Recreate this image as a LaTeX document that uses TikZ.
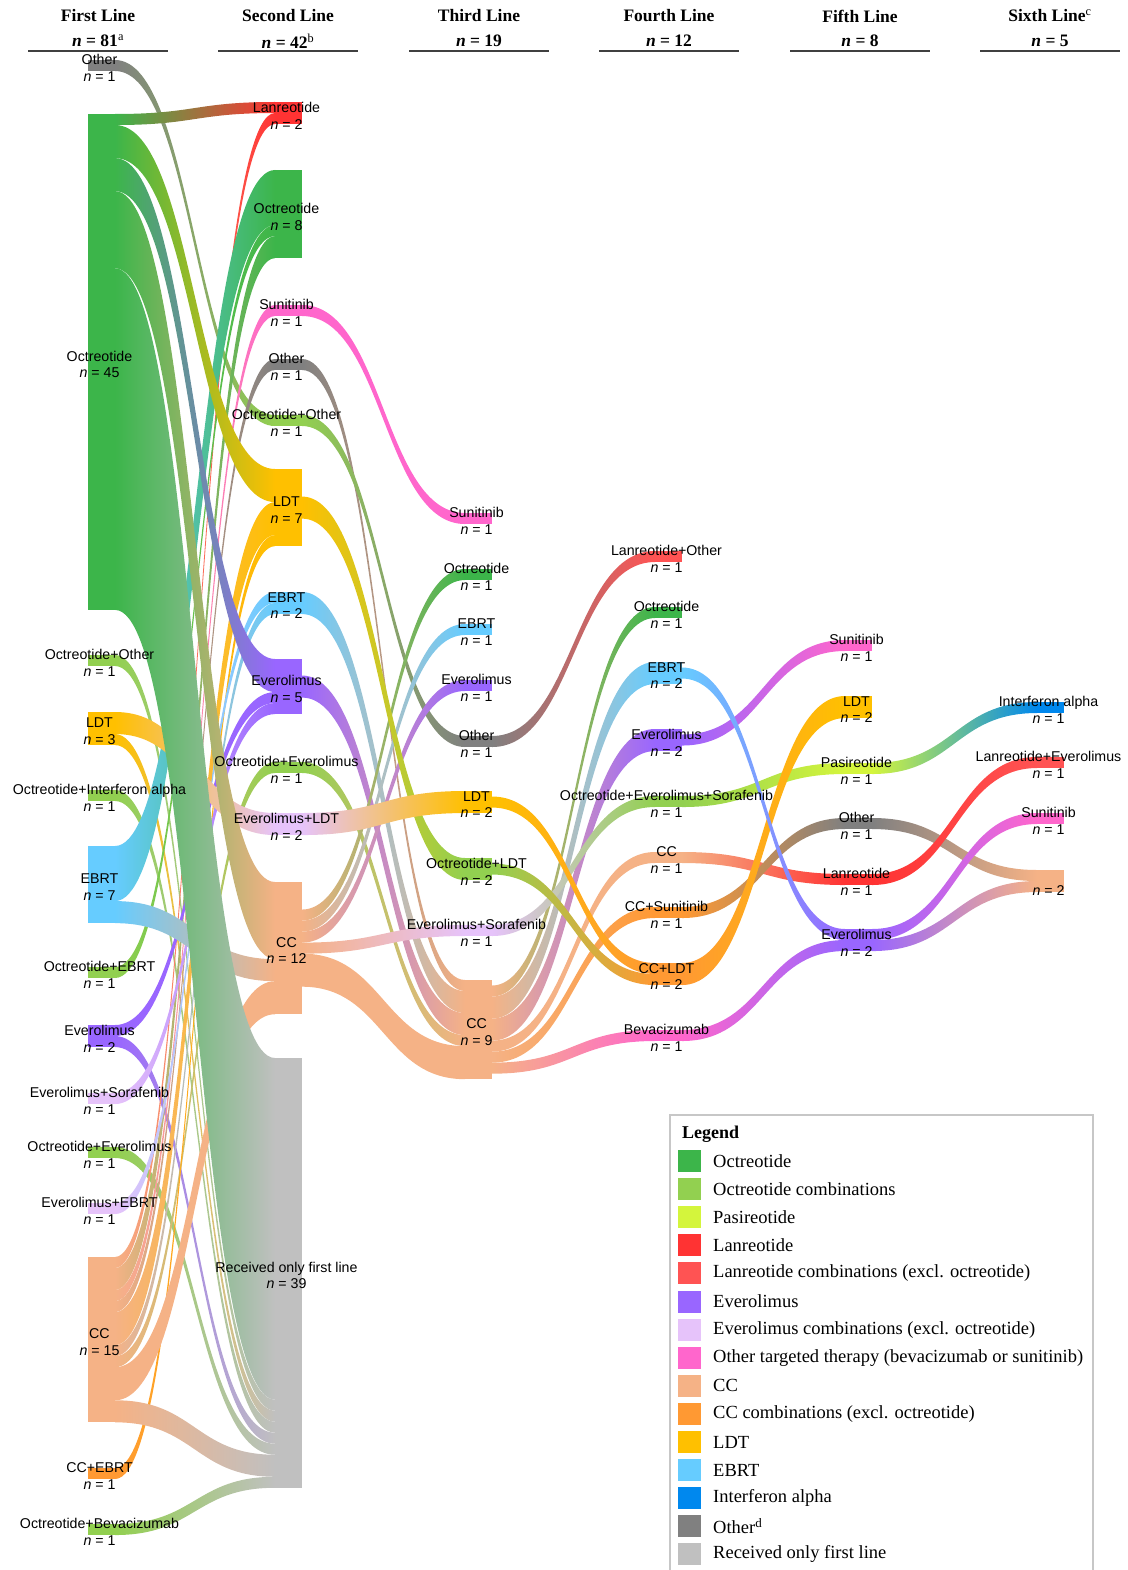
\documentclass[tikz,border=0pt]{standalone}
\usepackage{fontspec}
\setmainfont{Liberation Serif}
\newfontfamily\sansf{Liberation Sans}
\usetikzlibrary{calc}
\definecolor{cOct}{HTML}{3CB54A}
\definecolor{cOctC}{HTML}{92D050}
\definecolor{cPas}{HTML}{D4F53C}
\definecolor{cLan}{HTML}{FF3333}
\definecolor{cLanC}{HTML}{FF5353}
\definecolor{cEve}{HTML}{9966FF}
\definecolor{cEveC}{HTML}{E6C3FA}
\definecolor{cTT}{HTML}{FF66CC}
\definecolor{cCC}{HTML}{F5B286}
\definecolor{cCCC}{HTML}{FF9933}
\definecolor{cLDT}{HTML}{FFC000}
\definecolor{cEBRT}{HTML}{66CCFF}
\definecolor{cIFN}{HTML}{0088EE}
\definecolor{cOth}{HTML}{808080}
\definecolor{cRecv}{HTML}{C0C0C0}
\def\U{11.02}
\newcommand\nd[5]{\node[barbox=#4, fill=#5] (#1) at (#2,#3) {};}
\newcommand\lb[3]{\node[lbl] (#1L) at ([xshift=-2pt,yshift=-2.5pt]#1.center) {#2\\\textit{n} = #3};}
\newcommand\flow[7]{%
\path ($(#1.north east)+(0,#2*\U)$) coordinate (fa)
      ($(#1.north east)+(0,#2*\U+#5*\U)$) coordinate (fb)
      ($(#3.north west)+(0,#4*\U)$) coordinate (ga)
      ($(#3.north west)+(0,#4*\U+#5*\U)$) coordinate (gb)
      ($(fa)!.5!(ga)$) coordinate (fm);
\shade[left color=#6,right color=#7] (fa) .. controls (fa-|fm) and (ga-|fm) .. (ga) -- (gb) .. controls (gb-|fm) and (fb-|fm) .. (fb) -- cycle;}
\tikzset{
 barbox/.style={rectangle, draw=none, inner sep=0pt, outer sep=0pt, minimum width=27pt, minimum height={#1*11.02pt}, anchor=north west},
 lbl/.style={align=center, font=\sansf\fontsize{14.2}{16.7}\selectfont, inner sep=0pt, text=black},
 hdr/.style={font=\bfseries\fontsize{17.5}{20}\selectfont, inner sep=0pt},
 leg/.style={font=\fontsize{18.5}{20}\selectfont, anchor=west, inner sep=0pt},
 hline/.style={line width=1.6pt, black!75}
}
\begin{document}
\begin{tikzpicture}[x=1pt,y=-1pt]
\useasboundingbox (0,0) rectangle (1127,1570);
% ---------- nodes col 1
\nd{c1oth}{88}{60}{1}{cOth}
\nd{c1oct}{88}{114}{45}{cOct}
\nd{c1ooth}{88}{655}{1}{cOctC}
\nd{c1ldt}{88}{712}{3}{cLDT}
\nd{c1oifn}{88}{790}{1}{cOctC}
\nd{c1ebrt}{88}{846}{7}{cEBRT}
\nd{c1oebrt}{88}{967}{1}{cOctC}
\nd{c1eve}{88}{1025}{2}{cEve}
\nd{c1esor}{88}{1093}{1}{cEveC}
\nd{c1oeve}{88}{1147}{1}{cOctC}
\nd{c1eebrt}{88}{1203}{1}{cEveC}
\nd{c1cc}{88}{1257}{15}{cCC}
\nd{c1ccebrt}{88}{1468}{1}{cCCC}
\nd{c1obev}{88}{1524}{1}{cOctC}
% col 2
\nd{c2lan}{275}{102}{2}{cLan}
\nd{c2oct}{275}{170}{8}{cOct}
\nd{c2sun}{275}{305}{1}{cTT}
\nd{c2oth}{275}{359}{1}{cOth}
\nd{c2ooth}{275}{415}{1}{cOctC}
\nd{c2ldt}{275}{469}{7}{cLDT}
\nd{c2ebrt}{275}{592}{2}{cEBRT}
\nd{c2eve}{275}{659}{5}{cEve}
\nd{c2oeve}{275}{762}{1}{cOctC}
\nd{c2eldt}{275}{813}{2}{cEveC}
\nd{c2cc}{275}{882}{12}{cCC}
\nd{c2recv}{275}{1058}{39}{cRecv}
% col 3
\nd{c3sun}{465}{513}{1}{cTT}
\nd{c3oct}{465}{569}{1}{cOct}
\nd{c3ebrt}{465}{624}{1}{cEBRT}
\nd{c3eve}{465}{680}{1}{cEve}
\nd{c3oth}{465}{736}{1}{cOth}
\nd{c3ldt}{465}{791}{2}{cLDT}
\nd{c3oldt}{465}{858}{2}{cOctC}
\nd{c3esor}{465}{925}{1}{cEveC}
\nd{c3cc}{465}{980}{9}{cCC}
% col 4
\nd{c4loth}{655}{551}{1}{cLanC}
\nd{c4oct}{655}{607}{1}{cOct}
\nd{c4ebrt}{655}{662}{2}{cEBRT}
\nd{c4eve}{655}{729}{2}{cEve}
\nd{c4oes}{655}{796}{1}{cOctC}
\nd{c4cc}{655}{852}{1}{cCC}
\nd{c4ccsun}{655}{907}{1}{cCCC}
\nd{c4ccldt}{655}{963}{2}{cCCC}
\nd{c4bev}{655}{1030}{1}{cTT}
% col 5
\nd{c5sun}{845}{640}{1}{cTT}
\nd{c5ldt}{845}{696}{2}{cLDT}
\nd{c5pas}{845}{763}{1}{cPas}
\nd{c5oth}{845}{818}{1}{cOth}
\nd{c5lan}{845}{874}{1}{cLan}
\nd{c5eve}{845}{929}{2}{cEve}
% col 6
\nd{c6ifn}{1037}{702}{1}{cIFN}
\nd{c6leve}{1037}{757}{1}{cLanC}
\nd{c6sun}{1037}{813}{1}{cTT}
\nd{c6cc}{1037}{870}{2}{cCC}
% ---------- flows col1 -> col2
\flow{c1oth}{0}{c2ooth}{0}{1}{cOth}{cOctC}
\flow{c1ooth}{0}{c2recv}{31}{1}{cOctC}{cRecv}
\flow{c1ldt}{2}{c2recv}{32}{1}{cLDT}{cRecv}
\flow{c1oifn}{0}{c2recv}{33}{1}{cOctC}{cRecv}
\flow{c1eve}{1}{c2recv}{34}{1}{cEve}{cRecv}
\flow{c1oeve}{0}{c2recv}{35}{1}{cOctC}{cRecv}
\flow{c1cc}{0}{c2lan}{1}{1}{cCC}{cLan}
\flow{c1cc}{1}{c2oct}{6}{2}{cCC}{cOct}
\flow{c1cc}{3}{c2sun}{0}{1}{cCC}{cTT}
\flow{c1cc}{4}{c2oth}{0}{1}{cCC}{cOth}
\flow{c1cc}{8}{c2ebrt}{1}{1}{cCC}{cEBRT}
\flow{c1cc}{9}{c2oeve}{0}{1}{cCC}{cOctC}
\flow{c1ccebrt}{0}{c2ldt}{6}{1}{cCCC}{cLDT}
\flow{c1oebrt}{0}{c2oct}{5}{1}{cOctC}{cOct}
\flow{c1eve}{0}{c2eve}{3}{1}{cEve}{cEve}
\flow{c1esor}{0}{c2eve}{4}{1}{cEveC}{cEve}
\flow{c1eebrt}{0}{c2ebrt}{0}{1}{cEveC}{cEBRT}
\flow{c1cc}{5}{c2ldt}{3}{3}{cCC}{cLDT}
\flow{c1ebrt}{0}{c2oct}{0}{5}{cEBRT}{cOct}
\flow{c1ebrt}{5}{c2cc}{7}{2}{cEBRT}{cCC}
\flow{c1ldt}{0}{c2eldt}{0}{2}{cLDT}{cEveC}
\flow{c1cc}{10}{c2cc}{9}{3}{cCC}{cCC}
\flow{c1cc}{13}{c2recv}{36}{2}{cCC}{cRecv}
\flow{c1obev}{0}{c2recv}{38}{1}{cOctC}{cRecv}
\flow{c1oct}{0}{c2lan}{0}{1}{cOct}{cLan}
\flow{c1oct}{4}{c2eve}{0}{3}{cOct}{cEve}
\flow{c1oct}{1}{c2ldt}{0}{3}{cOct}{cLDT}
\flow{c1oct}{14}{c2recv}{0}{31}{cOct}{cRecv}
\flow{c1oct}{7}{c2cc}{0}{7}{cOct}{cCC}
% ---------- col2 -> col3
\flow{c2sun}{0}{c3sun}{0}{1}{cTT}{cTT}
\flow{c2oth}{0}{c3cc}{0}{1}{cOth}{cCC}
\flow{c2ooth}{0}{c3oth}{0}{1}{cOctC}{cOth}
\flow{c2ebrt}{0}{c3cc}{1}{2}{cEBRT}{cCC}
\flow{c2eve}{1.5}{c3cc}{3}{2}{cEve}{cCC}
\flow{c2oeve}{0}{c3cc}{5}{1}{cOctC}{cCC}
\flow{c2cc}{2.5}{c3oct}{0}{1}{cCC}{cOct}
\flow{c2cc}{3.5}{c3ebrt}{0}{1}{cCC}{cEBRT}
\flow{c2cc}{4.5}{c3eve}{0}{1}{cCC}{cEve}
\flow{c2cc}{5.5}{c3esor}{0}{1}{cCC}{cEveC}
\flow{c2cc}{6.5}{c3cc}{6}{3}{cCC}{cCC}
\flow{c2ldt}{2.5}{c3oldt}{0}{2}{cLDT}{cOctC}
\flow{c2eldt}{0}{c3ldt}{0}{2}{cEveC}{cLDT}
% ---------- col3 -> col4
\flow{c3oth}{0}{c4loth}{0}{1}{cOth}{cLanC}
\flow{c3cc}{0.5}{c4oct}{0}{1}{cCC}{cOct}
\flow{c3cc}{1.5}{c4ebrt}{0}{2}{cCC}{cEBRT}
\flow{c3cc}{3.5}{c4eve}{0}{2}{cCC}{cEve}
\flow{c3esor}{0}{c4oes}{0}{1}{cEveC}{cOctC}
\flow{c3cc}{5.5}{c4cc}{0}{1}{cCC}{cCC}
\flow{c3cc}{6.5}{c4ccsun}{0}{1}{cCC}{cCCC}
\flow{c3cc}{7.5}{c4bev}{0}{1}{cCC}{cTT}
\flow{c3oldt}{0.5}{c4ccldt}{1}{1}{cOctC}{cCCC}
\flow{c3ldt}{0.5}{c4ccldt}{0}{1}{cLDT}{cCCC}
% ---------- col4 -> col5
\flow{c4eve}{0.5}{c5sun}{0}{1}{cEve}{cTT}
\flow{c4oes}{0}{c5pas}{0}{1}{cOctC}{cPas}
\flow{c4cc}{0}{c5lan}{0}{1}{cCC}{cLan}
\flow{c4ccsun}{0}{c5oth}{0}{1}{cCCC}{cOth}
\flow{c4ccldt}{0}{c5ldt}{0}{2}{cCCC}{cLDT}
\flow{c4bev}{0}{c5eve}{1}{1}{cTT}{cEve}
\flow{c4ebrt}{0.5}{c5eve}{0}{1}{cEBRT}{cEve}
% ---------- col5 -> col6
\flow{c5pas}{0}{c6ifn}{0}{1}{cPas}{cIFN}
\flow{c5oth}{0}{c6cc}{0}{1}{cOth}{cCC}
\flow{c5lan}{0}{c6leve}{0}{1}{cLan}{cLanC}
\flow{c5eve}{0}{c6sun}{0}{1}{cEve}{cTT}
\flow{c5eve}{1}{c6cc}{1}{1}{cEve}{cCC}
% ---------- labels
\lb{c1oth}{Other}{1}
\lb{c1oct}{Octreotide}{45}
\lb{c1ooth}{Octreotide+Other}{1}
\lb{c1ldt}{LDT}{3}
\lb{c1oifn}{Octreotide+Interferon alpha}{1}
\lb{c1ebrt}{EBRT}{7}
\lb{c1oebrt}{Octreotide+EBRT}{1}
\lb{c1eve}{Everolimus}{2}
\lb{c1esor}{Everolimus+Sorafenib}{1}
\lb{c1oeve}{Octreotide+Everolimus}{1}
\lb{c1eebrt}{Everolimus+EBRT}{1}
\lb{c1cc}{CC}{15}
\lb{c1ccebrt}{CC+EBRT}{1}
\lb{c1obev}{Octreotide+Bevacizumab}{1}
\lb{c2lan}{Lanreotide}{2}
\lb{c2oct}{Octreotide}{8}
\lb{c2sun}{Sunitinib}{1}
\lb{c2oth}{Other}{1}
\lb{c2ooth}{Octreotide+Other}{1}
\lb{c2ldt}{LDT}{7}
\lb{c2ebrt}{EBRT}{2}
\lb{c2eve}{Everolimus}{5}
\lb{c2oeve}{Octreotide+Everolimus}{1}
\lb{c2eldt}{Everolimus+LDT}{2}
\lb{c2cc}{CC}{12}
\lb{c2recv}{Received only first line}{39}
\lb{c3sun}{Sunitinib}{1}
\lb{c3oct}{Octreotide}{1}
\lb{c3ebrt}{EBRT}{1}
\lb{c3eve}{Everolimus}{1}
\lb{c3oth}{Other}{1}
\lb{c3ldt}{LDT}{2}
\lb{c3oldt}{Octreotide+LDT}{2}
\lb{c3esor}{Everolimus+Sorafenib}{1}
\lb{c3cc}{CC}{9}
\lb{c4loth}{Lanreotide+Other}{1}
\lb{c4oct}{Octreotide}{1}
\lb{c4ebrt}{EBRT}{2}
\lb{c4eve}{Everolimus}{2}
\lb{c4oes}{Octreotide+Everolimus+Sorafenib}{1}
\lb{c4cc}{CC}{1}
\lb{c4ccsun}{CC+Sunitinib}{1}
\lb{c4ccldt}{CC+LDT}{2}
\lb{c4bev}{Bevacizumab}{1}
\lb{c5sun}{Sunitinib}{1}
\lb{c5ldt}{LDT}{2}
\lb{c5pas}{Pasireotide}{1}
\lb{c5oth}{Other}{1}
\lb{c5lan}{Lanreotide}{1}
\lb{c5eve}{Everolimus}{2}
\lb{c6ifn}{Interferon alpha}{1}
\lb{c6leve}{Lanreotide+Everolimus}{1}
\lb{c6sun}{Sunitinib}{1}
\node[lbl] (c6ccL) at ([xshift=-2pt,yshift=-10pt]c6cc.center) {\textit{n} = 2};
% ---------- header
\foreach \cx/\tt/\nn [count=\i] in {98/First Line/81\textsuperscript{\normalfont a},288/Second Line/42\textsuperscript{\normalfont b},479/Third Line/19,669/Fourth Line/12,860/Fifth Line/8,1050/Sixth Line\textsuperscript{\normalfont c}/5}{
 \node[hdr] (h\i) at (\cx,16) {\tt};
 \node[hdr] (hn\i) at (\cx,41) {\textit{n} = \nn};
 \draw[hline] ($(hn\i)+(-70,10)$) -- ($(hn\i)+(70,10)$);
}
% ---------- legend
\draw[black!22, line width=1.3pt] (670,1572) -- (670,1115) -- (1093,1115) -- (1093,1572);
\node[leg, font=\bfseries\fontsize{18}{20}\selectfont] (legt) at (682,1134) {Legend};
\foreach \c/\t [count=\i from 0] in {cOct/Octreotide, cOctC/Octreotide combinations, cPas/Pasireotide, cLan/Lanreotide, cLanC/Lanreotide combinations (excl. octreotide), cEve/Everolimus, cEveC/Everolimus combinations (excl. octreotide), cTT/Other targeted therapy (bevacizumab or sunitinib), cCC/CC, cCCC/CC combinations (excl. octreotide), cLDT/LDT, cEBRT/EBRT, cIFN/Interferon alpha, cOth/Other\textsuperscript{d}, cRecv/Received only first line}{
 \fill[\c] (678,{1150+28.1*\i}) rectangle ++(23,22);
 \node[leg] (leg\i) at (713,{1161+28.1*\i}) {\t};
}
\end{tikzpicture}
\end{document}
